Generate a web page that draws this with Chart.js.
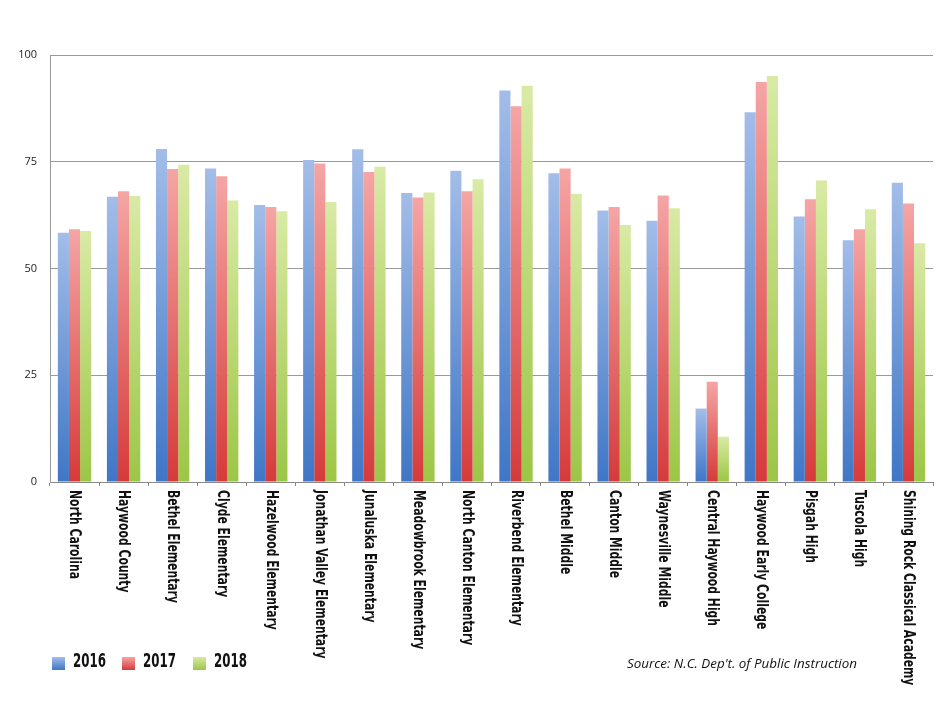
<!DOCTYPE html>
<html>
<head>
<meta charset="utf-8">
<script src="https://cdn.jsdelivr.net/npm/chart.js@4/dist/chart.umd.min.js"></script>
<style>
  html, body { margin: 0; padding: 0; background: #fff; }
  #wrap { width: 941px; height: 708px; position: relative; }
</style>
</head>
<body>
<div id="wrap"><canvas id="scoreChart"></canvas></div>
<script>
// Données
const categories = [
  'North Carolina', 'Haywood County', 'Bethel Elementary', 'Clyde Elementary',
  'Hazelwood Elementary', 'Jonathan Valley Elementary', 'Junaluska Elementary',
  'Meadowbrook Elementary', 'North Canton Elementary', 'Riverbend Elementary',
  'Bethel Middle', 'Canton Middle', 'Waynesville Middle', 'Central Haywood High',
  'Haywood Early College', 'Pisgah High', 'Tuscola High', 'Shining Rock Classical Academy'
];
const years = ['2016', '2017', '2018'];
const values2016 = [58.4, 66.8, 78.0, 73.4, 64.9, 75.4, 77.9, 67.7, 72.9, 91.7, 72.3, 63.6, 61.2, 17.2, 86.6, 62.2, 56.6, 70.1];
const values2017 = [59.2, 68.1, 73.3, 71.6, 64.4, 74.6, 72.6, 66.6, 68.1, 88.0, 73.4, 64.4, 67.1, 23.5, 93.7, 66.2, 59.2, 65.2];
const values2018 = [58.8, 67.0, 74.3, 65.9, 63.4, 65.6, 73.8, 67.8, 70.9, 92.8, 67.5, 60.2, 64.1, 10.6, 95.1, 70.6, 63.9, 55.9];
const yTicks = [0, 25, 50, 75, 100];
const sourceText = "Source: N.C. Dep't. of Public Instruction";

// Couleurs (haut clair, bas foncé)
const palette = [
  { top: '#a3bde8', bottom: '#3f76c6', flat: '#6f98d8' },
  { top: '#f5a5a5', bottom: '#d63a3a', flat: '#e56b6b' },
  { top: '#d9eaa5', bottom: '#9cc646', flat: '#b9d871' }
];

const labelFont = "bold 16px 'DejaVu Sans', sans-serif";
const legendFont = "bold 20px 'DejaVu Sans', sans-serif";

function barFill(p) {
  return function (c) {
    const chart = c.chart;
    if (!chart.chartArea || c.raw === undefined) return p.flat;
    const y = chart.scales.y;
    const g = chart.ctx.createLinearGradient(0, y.getPixelForValue(c.raw), 0, y.getPixelForValue(0));
    g.addColorStop(0, p.top);
    g.addColorStop(1, p.bottom);
    return g;
  };
}

// texte condensé : on resserre la police pour imiter la police étroite
function squeeze(ctx, sample, targetWidth) {
  return targetWidth / ctx.measureText(sample).width;
}

// Étiquettes verticales + légende + source
const decorations = {
  id: 'decorations',
  afterDraw(chart) {
    const ctx = chart.ctx;
    const xs = chart.scales.x;
    const bottom = chart.chartArea.bottom;
    ctx.save();
    ctx.fillStyle = '#111';
    ctx.font = labelFont;
    ctx.textAlign = 'left';
    ctx.textBaseline = 'middle';
    const k = squeeze(ctx, 'North Carolina', 89);
    categories.forEach((label, i) => {
      ctx.save();
      ctx.translate(xs.getPixelForValue(i), bottom + 8);
      ctx.rotate(Math.PI / 2);
      ctx.scale(k, 1);
      ctx.fillText(label, 0, 0);
      ctx.restore();
    });

    // légende
    const legendX = [52, 122, 193];
    ctx.font = legendFont;
    const kl = squeeze(ctx, '2016', 33);
    years.forEach((yr, i) => {
      const g = ctx.createLinearGradient(0, 657, 0, 670);
      g.addColorStop(0, palette[i].top);
      g.addColorStop(1, palette[i].bottom);
      ctx.fillStyle = g;
      ctx.fillRect(legendX[i], 657, 13, 13);
      ctx.fillStyle = '#111';
      ctx.save();
      ctx.translate(legendX[i] + 21, 662);
      ctx.scale(kl, 1);
      ctx.fillText(yr, 0, 0);
      ctx.restore();
    });

    // source
    ctx.font = "italic 13px 'Open Sans', sans-serif";
    ctx.fillStyle = '#111';
    const ks = squeeze(ctx, sourceText, 230);
    ctx.save();
    ctx.translate(627, 664);
    ctx.scale(ks, 1);
    ctx.fillText(sourceText, 0, 0);
    ctx.restore();
    ctx.restore();
  }
};

const ctx = document.getElementById('scoreChart').getContext('2d');
new Chart(ctx, {
  type: 'bar',
  data: {
    labels: categories,
    datasets: [values2016, values2017, values2018].map((vals, i) => ({
      label: years[i],
      data: vals,
      backgroundColor: barFill(palette[i]),
      borderWidth: 0,
      categoryPercentage: 0.68,
      barPercentage: 1.0
    }))
  },
  options: {
    responsive: true,
    maintainAspectRatio: false,
    animation: false,
    layout: { padding: { left: 0, top: 55, right: 8, bottom: 226 } },
    plugins: {
      legend: { display: false },
      tooltip: { enabled: false }
    },
    scales: {
      x: {
        ticks: { display: false },
        grid: { drawOnChartArea: false, drawTicks: true, tickLength: 4, color: '#888', offset: true },
        border: { display: true, color: '#888' },
        afterFit(scale) { scale.height = 0; }
      },
      y: {
        min: 0,
        max: 100,
        afterBuildTicks(scale) { scale.ticks = yTicks.map(v => ({ value: v })); },
        ticks: { color: '#222', padding: 13, font: { family: 'Open Sans', size: 11 } },
        grid: { color: '#999', drawTicks: false },
        border: { display: true, color: '#999' },
        afterFit(scale) { scale.width = 50; }
      }
    }
  },
  plugins: [decorations]
});
</script>
</body>
</html>
